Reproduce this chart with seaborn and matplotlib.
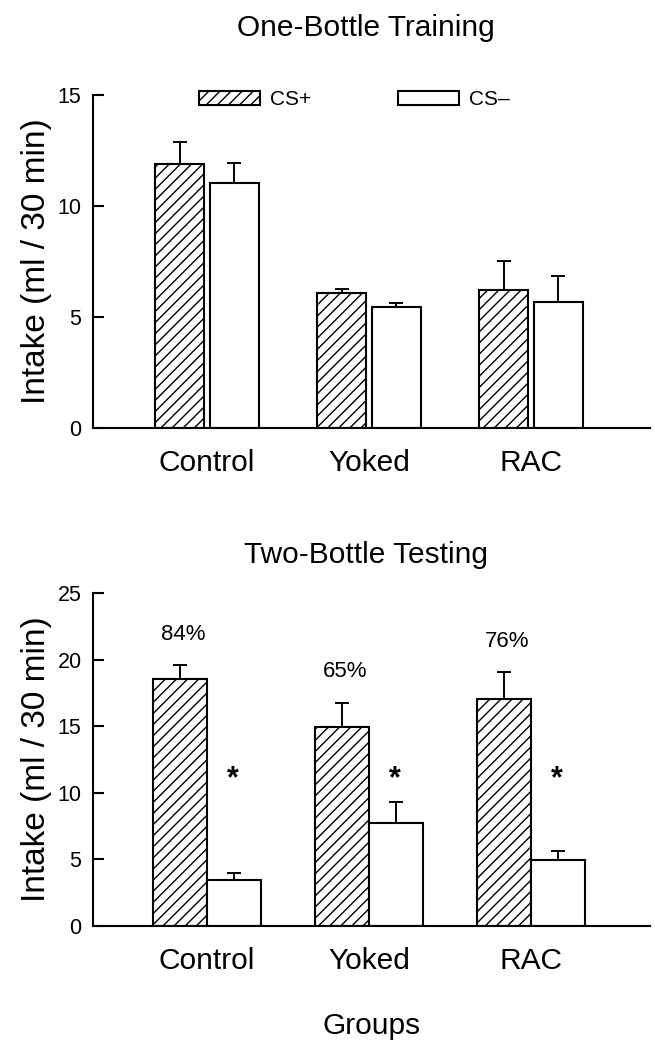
import numpy as np
import pandas as pd
import matplotlib
matplotlib.use("Agg")
import matplotlib.pyplot as plt
from matplotlib.patches import Patch
from matplotlib.container import BarContainer
import seaborn as sns

# ---------------- data ----------------
groups = ["Control", "Yoked", "RAC"]
conditions = ["CS+", "CS\u2013"]

train_cs_plus = [11.9, 6.1, 6.2]
train_cs_plus_sem = [1.0, 0.17, 1.32]
train_cs_minus = [11.05, 5.44, 5.66]
train_cs_minus_sem = [0.9, 0.18, 1.19]

test_cs_plus = [18.57, 14.92, 17.07]
test_cs_plus_sem = [1.03, 1.85, 1.98]
test_cs_minus = [3.44, 7.72, 4.96]
test_cs_minus_sem = [0.55, 1.56, 0.68]

preference_labels = ["84%", "65%", "76%"]
signif_labels = ["*", "*", "*"]

train_yticks = [0, 5, 10, 15]
test_yticks = [0, 5, 10, 15, 20, 25]

# ---------------- style ----------------
sns.set_style("ticks")
plt.rcParams["font.family"] = ["Liberation Sans", "DejaVu Sans"]
plt.rcParams["hatch.linewidth"] = 1.0
plt.rcParams["hatch.color"] = "black"
plt.rcParams["axes.linewidth"] = 1.5
for key in ["text.color", "axes.labelcolor", "xtick.color", "ytick.color",
            "axes.edgecolor"]:
    plt.rcParams[key] = "black"

BIG = 21.5
YLAB = 24
TICK = 15.5
LEG = 15
HATCH = "///"


def bar_containers(ax):
    return [c for c in ax.containers if isinstance(c, BarContainer)]


def panel(ax, plus, plus_err, minus, minus_err, width, gap, ymax, yticks):
    df = pd.DataFrame({
        "Group": groups * 2,
        "Condition": [conditions[0]] * len(groups) + [conditions[1]] * len(groups),
        "Intake": list(plus) + list(minus),
    })
    sns.barplot(data=df, x="Group", y="Intake", hue="Condition",
                order=groups, hue_order=conditions,
                palette=["white", "white"], edgecolor="black", linewidth=1.5,
                width=width, gap=gap, errorbar=None, legend=False, ax=ax,
                saturation=1)
    errs = [plus_err, minus_err]
    conts = bar_containers(ax)
    for ci, cont in enumerate(conts):
        xs, ys = [], []
        for bar in cont.patches:
            if ci == 0:
                bar.set_hatch(HATCH)
            xs.append(bar.get_x() + bar.get_width() / 2)
            ys.append(bar.get_height())
        e = np.array(errs[ci])
        ax.errorbar(xs, ys, yerr=[np.zeros_like(e), e], fmt="none",
                    ecolor="black", elinewidth=1.4, capsize=4.8,
                    capthick=1.4, zorder=1)
    ax.set_ylim(0, ymax)
    ax.set_yticks(yticks)
    ax.set_xlim(-0.702, 2.735)
    sns.despine(ax=ax)
    ax.tick_params(axis="y", direction="in", length=8, width=1.5,
                   labelsize=TICK, pad=8.5)
    ax.tick_params(axis="x", length=0, labelsize=BIG, pad=15)
    ax.set_ylabel("Intake (ml / 30 min)", fontsize=YLAB, labelpad=4)
    ax.set_xlabel("")


fig = plt.figure(figsize=(6.55, 10.4), dpi=100)
ax1 = fig.add_axes([0.1425, 0.5885, 0.85, 0.3202])
ax2 = fig.add_axes([0.1425, 0.1096, 0.85, 0.3202])

panel(ax1, train_cs_plus, train_cs_plus_sem, train_cs_minus,
      train_cs_minus_sem, 0.676, 0.107, 15, train_yticks)
panel(ax2, test_cs_plus, test_cs_plus_sem, test_cs_minus,
      test_cs_minus_sem, 0.664, 0.0, 25, test_yticks)

ax1.set_title("One-Bottle Training", fontsize=BIG, x=0.49, y=1.20,
              va="center", pad=0)
ax2.set_title("Two-Bottle Testing", fontsize=BIG, x=0.49, y=1.115,
              va="center", pad=0)
ax2.set_xlabel("Groups", fontsize=BIG, labelpad=27)

# legend
handles = [Patch(facecolor="white", edgecolor="black", hatch=HATCH, lw=1.5),
           Patch(facecolor="white", edgecolor="black", lw=1.5)]
ax1.legend(handles=handles, labels=conditions, ncol=2, frameon=False,
           loc="upper left", bbox_to_anchor=(0.19, 1.014),
           borderaxespad=0, borderpad=0, fontsize=LEG,
           handlelength=2.9, handleheight=0.67, handletextpad=0.48,
           columnspacing=4.2)

# annotations on the two-bottle test
plus_cont, minus_cont = bar_containers(ax2)[:2]
for i, bar in enumerate(plus_cont.patches):
    x = bar.get_x() + bar.get_width() / 2
    y = test_cs_plus[i] + test_cs_plus_sem[i] + 2.3
    ax2.text(x + 0.02, y, preference_labels[i], ha="center", va="center",
             fontsize=16)
for i, bar in enumerate(minus_cont.patches):
    x = bar.get_x() + bar.get_width() / 2
    ax2.text(x - 0.008, 11.0, signif_labels[i], ha="center", va="center",
             fontsize=22, fontweight="bold")

fig.savefig("out.png", dpi=100)
